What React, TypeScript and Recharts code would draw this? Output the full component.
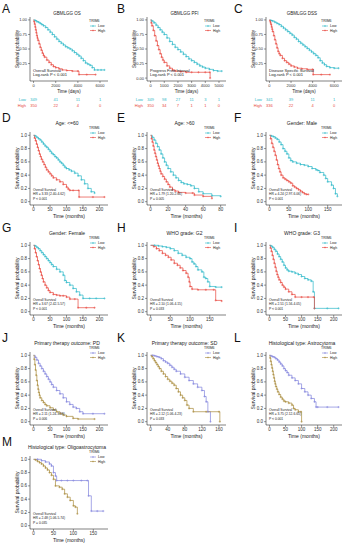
import React from 'react';
import { LineChart, Line, XAxis, YAxis } from 'recharts';

const FONT = '"Liberation Sans", Arial, Helvetica, sans-serif';
const CYAN = '#2DB8C8';
const RED = '#E8473E';
const PURPLE = '#8083DC';
const OLIVE = '#A98B3B';

type Pair = [number, number];

// ---------- data: [time, survival] ----------
const A_LOW: Pair[] = [[0,1],[150,0.99],[300,0.97],[450,0.96],[600,0.94],[750,0.92],[900,0.9],[1100,0.87],[1300,0.83],[1500,0.79],[1700,0.75],[1900,0.71],[2100,0.67],[2300,0.63],[2500,0.6],[2700,0.57],[2900,0.54],[3100,0.52],[3300,0.5],[3500,0.47],[3700,0.44],[3900,0.41],[4100,0.38],[4300,0.34],[4500,0.3],[4700,0.26],[4900,0.24],[5100,0.22],[5300,0.18],[5500,0.14],[5800,0.14],[6100,0.14],[6400,0.14]];
const A_HIGH: Pair[] = [[0,1],[50,0.97],[100,0.93],[150,0.88],[200,0.83],[250,0.78],[300,0.73],[350,0.69],[400,0.65],[500,0.59],[600,0.53],[700,0.48],[800,0.43],[900,0.39],[1000,0.36],[1200,0.31],[1400,0.27],[1600,0.23],[1800,0.2],[2000,0.18],[2300,0.16],[2600,0.14],[3000,0.13],[3500,0.12],[4000,0.12],[4100,0.06],[4800,0.06],[5600,0.06]];
const B_LOW: Pair[] = [[0,1],[100,0.98],[250,0.95],[400,0.91],[550,0.87],[700,0.83],[850,0.79],[1000,0.75],[1200,0.69],[1400,0.63],[1600,0.58],[1800,0.53],[2000,0.49],[2200,0.45],[2400,0.41],[2600,0.37],[2800,0.33],[3000,0.3],[3200,0.27],[3400,0.24],[3600,0.21],[3800,0.19],[4000,0.17],[4300,0.15],[4600,0.13],[4900,0.12],[5200,0.12]];
const B_HIGH: Pair[] = [[0,1],[50,0.95],[100,0.9],[200,0.82],[300,0.73],[400,0.64],[500,0.56],[600,0.49],[700,0.42],[800,0.36],[900,0.31],[1000,0.27],[1200,0.21],[1400,0.17],[1600,0.14],[1800,0.12],[2200,0.11],[2600,0.1],[3000,0.1],[3500,0.1],[4000,0.1],[4330,0.1],[4350,0]];
const C_LOW: Pair[] = [[0,1],[150,0.99],[300,0.98],[500,0.96],[700,0.94],[900,0.92],[1100,0.89],[1300,0.86],[1500,0.83],[1700,0.8],[1900,0.77],[2100,0.74],[2300,0.7],[2500,0.67],[2700,0.63],[2900,0.6],[3100,0.57],[3300,0.54],[3500,0.51],[3700,0.48],[3900,0.45],[4100,0.42],[4300,0.39],[4500,0.35],[4700,0.3],[4900,0.26],[5100,0.23],[5300,0.2],[5600,0.18],[6000,0.17],[6400,0.17]];
const C_HIGH: Pair[] = [[0,1],[50,0.98],[100,0.95],[150,0.92],[200,0.88],[250,0.84],[300,0.8],[400,0.73],[500,0.66],[600,0.59],[700,0.52],[800,0.46],[900,0.42],[1000,0.39],[1200,0.34],[1400,0.3],[1600,0.27],[1800,0.24],[2000,0.21],[2300,0.19],[2600,0.17],[3000,0.16],[3500,0.15],[4000,0.15],[4050,0.06],[4800,0.06],[5600,0.06]];
const D_LOW: Pair[] = [[0,1],[5,0.99],[10,0.97],[15,0.95],[20,0.93],[25,0.9],[30,0.87],[35,0.84],[40,0.82],[45,0.79],[50,0.76],[55,0.73],[60,0.71],[65,0.68],[70,0.66],[75,0.63],[80,0.6],[85,0.58],[90,0.55],[95,0.52],[100,0.5],[108,0.48],[115,0.46],[125,0.43],[135,0.39],[145,0.33],[155,0.27],[165,0.2],[175,0.15],[185,0.13]];
const D_HIGH: Pair[] = [[0,1],[3,0.96],[6,0.92],[9,0.87],[12,0.82],[15,0.77],[18,0.72],[21,0.68],[24,0.64],[28,0.6],[32,0.56],[36,0.52],[40,0.48],[45,0.45],[50,0.42],[55,0.39],[60,0.36],[70,0.33],[80,0.3],[90,0.26],[100,0.22],[105,0.19],[110,0.17],[120,0.17],[137,0.17],[138,0.07],[180,0.07],[215,0.07]];
const E_LOW: Pair[] = [[0,1],[2,0.97],[4,0.93],[6,0.88],[8,0.83],[10,0.78],[12,0.72],[14,0.66],[16,0.6],[18,0.55],[20,0.5],[23,0.45],[26,0.4],[29,0.36],[32,0.32],[35,0.29],[38,0.27],[42,0.26],[46,0.24],[50,0.2],[55,0.15],[60,0.12],[70,0.09],[80,0.08]];
const E_HIGH: Pair[] = [[0,1],[1,0.95],[2,0.9],[3,0.84],[4,0.78],[5,0.73],[6,0.68],[7,0.63],[8,0.58],[9,0.54],[10,0.5],[11,0.46],[12,0.42],[14,0.38],[16,0.34],[18,0.3],[20,0.26],[22,0.22],[25,0.18],[28,0.16],[32,0.14],[40,0.13],[48,0.13],[50,0.1],[60,0.08],[70,0.05]];
const F_LOW: Pair[] = [[0,1],[5,0.99],[10,0.98],[15,0.96],[20,0.94],[25,0.9],[30,0.86],[35,0.8],[40,0.76],[45,0.72],[50,0.66],[55,0.62],[60,0.6],[70,0.58],[80,0.56],[90,0.55],[100,0.53],[110,0.5],[120,0.48],[125,0.47],[130,0.44],[140,0.4],[145,0.35],[150,0.3],[160,0.25],[165,0.2],[170,0.12],[175,0.08]];
const F_HIGH: Pair[] = [[0,1],[3,0.95],[6,0.88],[9,0.82],[12,0.76],[15,0.7],[18,0.63],[21,0.56],[24,0.5],[27,0.45],[30,0.4],[35,0.36],[40,0.34],[45,0.32],[50,0.3],[55,0.28],[60,0.24],[65,0.22],[70,0.2],[75,0.18],[80,0.16],[85,0.14],[90,0.12],[95,0.11],[100,0.11]];
const G_LOW: Pair[] = [[0,1],[5,0.99],[10,0.97],[15,0.95],[20,0.92],[25,0.89],[30,0.86],[35,0.83],[40,0.8],[45,0.77],[50,0.74],[55,0.71],[60,0.68],[70,0.64],[80,0.6],[90,0.55],[95,0.47],[100,0.44],[110,0.4],[120,0.35],[130,0.3],[140,0.25],[150,0.2],[170,0.2],[190,0.2],[215,0.2]];
const G_HIGH: Pair[] = [[0,1],[3,0.95],[6,0.89],[9,0.83],[12,0.77],[15,0.71],[18,0.65],[21,0.6],[24,0.55],[27,0.5],[30,0.45],[35,0.4],[40,0.36],[45,0.32],[50,0.29],[60,0.26],[70,0.25],[80,0.24],[90,0.24],[100,0.22],[110,0.19],[125,0.19],[135,0.06],[160,0.06],[185,0.06]];
const H_LOW: Pair[] = [[0,1],[10,1],[20,0.99],[30,0.98],[40,0.97],[50,0.95],[60,0.92],[70,0.88],[80,0.85],[90,0.82],[100,0.8],[105,0.75],[110,0.72],[115,0.68],[120,0.63],[130,0.6],[135,0.52],[140,0.5],[145,0.45],[150,0.38],[165,0.37],[180,0.37]];
const H_HIGH: Pair[] = [[0,1],[8,0.98],[15,0.95],[22,0.92],[30,0.88],[38,0.85],[45,0.82],[52,0.78],[60,0.73],[68,0.7],[75,0.66],[82,0.62],[90,0.58],[95,0.52],[98,0.45],[100,0.38],[105,0.34],[120,0.33],[140,0.33],[160,0.33],[165,0.17],[180,0.16]];
const I_LOW: Pair[] = [[0,1],[5,0.99],[10,0.97],[15,0.94],[20,0.91],[25,0.87],[30,0.83],[35,0.79],[40,0.75],[45,0.7],[50,0.66],[55,0.63],[60,0.61],[70,0.6],[80,0.58],[90,0.56],[100,0.53],[110,0.5],[120,0.48],[130,0.46],[136,0.3],[140,0.05],[180,0.05],[215,0.05]];
const I_HIGH: Pair[] = [[0,1],[3,0.96],[6,0.91],[9,0.85],[12,0.79],[15,0.73],[18,0.67],[21,0.61],[24,0.56],[27,0.52],[30,0.48],[35,0.44],[40,0.4],[45,0.37],[50,0.34],[60,0.3],[70,0.26],[80,0.22],[100,0.22],[120,0.22],[138,0.22],[140,0.05]];
const J_LOW: Pair[] = [[0,1],[5,0.97],[10,0.93],[15,0.88],[20,0.84],[25,0.8],[30,0.76],[35,0.72],[40,0.68],[45,0.64],[50,0.6],[55,0.56],[60,0.52],[70,0.47],[80,0.42],[90,0.36],[100,0.3],[110,0.26],[120,0.22],[130,0.2],[140,0.15],[150,0.12],[180,0.12],[215,0.12]];
const J_HIGH: Pair[] = [[0,1],[2,0.94],[4,0.86],[6,0.78],[8,0.7],[10,0.62],[12,0.55],[14,0.49],[16,0.44],[18,0.4],[20,0.36],[25,0.32],[30,0.29],[35,0.26],[40,0.24],[50,0.21],[60,0.18],[70,0.15],[80,0.12],[90,0.1],[100,0.08],[120,0.05],[135,0.04],[185,0.04]];
const K_LOW: Pair[] = [[0,1],[5,1],[10,0.99],[15,0.98],[20,0.97],[25,0.95],[30,0.92],[35,0.9],[40,0.88],[45,0.85],[50,0.82],[55,0.79],[60,0.76],[70,0.72],[80,0.67],[90,0.62],[100,0.57],[110,0.52],[120,0.47],[126,0.38],[130,0.3],[134,0.15],[140,0]];
const K_HIGH: Pair[] = [[0,1],[3,0.98],[6,0.95],[9,0.92],[12,0.89],[15,0.86],[18,0.83],[21,0.8],[25,0.76],[30,0.72],[35,0.68],[40,0.64],[45,0.61],[50,0.58],[55,0.55],[60,0.5],[65,0.45],[70,0.4],[75,0.36],[80,0.32],[85,0.25],[90,0.2],[100,0.15],[130,0.15],[160,0.15],[162,0]];
const L_LOW: Pair[] = [[0,1],[5,0.99],[10,0.98],[15,0.97],[20,0.95],[25,0.93],[30,0.9],[35,0.87],[40,0.84],[45,0.8],[50,0.77],[55,0.74],[60,0.7],[70,0.66],[80,0.62],[90,0.57],[100,0.5],[110,0.45],[120,0.4],[130,0.35],[140,0.3],[145,0.22],[150,0.22],[180,0.22],[215,0.22]];
const L_HIGH: Pair[] = [[0,1],[2,0.96],[4,0.91],[6,0.86],[8,0.81],[10,0.76],[12,0.71],[14,0.66],[16,0.61],[18,0.57],[20,0.53],[23,0.49],[26,0.45],[30,0.41],[35,0.37],[40,0.34],[45,0.31],[50,0.3],[60,0.28],[70,0.25],[75,0.2],[80,0.18],[90,0.15],[98,0.15],[100,0]];
const M_LOW: Pair[] = [[0,1],[10,1],[20,0.98],[30,0.96],[40,0.93],[45,0.9],[50,0.8],[55,0.75],[58,0.68],[70,0.68],[85,0.68],[100,0.68],[120,0.68],[135,0.68],[138,0.45],[145,0.22],[160,0.22],[175,0.22]];
const M_HIGH: Pair[] = [[0,1],[5,0.99],[10,0.97],[15,0.95],[20,0.93],[25,0.9],[30,0.87],[35,0.84],[40,0.8],[45,0.76],[50,0.7],[55,0.6],[65,0.58],[72,0.55],[78,0.48],[85,0.43],[92,0.38],[100,0.3],[105,0.28],[110,0.18]];

// ---------- tick labels ----------
const TICKS_DAYS_A = [0, 2000, 4000, 6000];
const TICKS_DAYS_B = [0, 1000, 2000, 3000, 4000, 5000];
const TICKS_200 = [0, 50, 100, 150, 200];
const TICKS_150 = [0, 50, 100, 150];
const TICKS_80 = [0, 20, 40, 60, 80];
const TICKS_160 = [0, 40, 80, 120, 160];
const Y_QUARTER = [0, 0.25, 0.5, 0.75, 1];
const Y_QUARTER_NO0 = [0.25, 0.5, 0.75, 1];
const Y_FIFTH = [0, 0.2, 0.4, 0.6, 0.8, 1];

// ---------- risk tables ----------
const RISK_A_LOW = [349, 41, 11, 1];
const RISK_A_HIGH = [350, 22, 4, 0];
const RISK_B_LOW = [349, 98, 27, 11, 3, 1];
const RISK_B_HIGH = [350, 34, 7, 1, 1, 0];
const RISK_C_LOW = [341, 39, 11, 1];
const RISK_C_HIGH = [336, 22, 4, 0];

interface Spec {
  letter: string; title: string; col: number; row: number;
  low: Pair[]; high: Pair[]; xMax: number; xTicks: number[]; yTicks: number[]; yDigits: number;
  xLabel: string; notes: string[]; riskLow?: number[]; riskHigh?: number[]; pal: number;
}

const SPECS: Spec[] = [
  { letter: 'A', title: 'GBMLGG OS', col: 0, row: 0, low: A_LOW, high: A_HIGH, xMax: 6400, xTicks: TICKS_DAYS_A, yTicks: Y_QUARTER_NO0, yDigits: 2, xLabel: 'Time (days)', notes: ['Overall Survival', 'Log-rank  P < 0.001'], riskLow: RISK_A_LOW, riskHigh: RISK_A_HIGH, pal: 0 },
  { letter: 'B', title: 'GBMLGG PFI', col: 1, row: 0, low: B_LOW, high: B_HIGH, xMax: 5250, xTicks: TICKS_DAYS_B, yTicks: Y_QUARTER, yDigits: 2, xLabel: 'Time (days)', notes: ['Progress Free Interval', 'Log-rank  P < 0.001'], riskLow: RISK_B_LOW, riskHigh: RISK_B_HIGH, pal: 0 },
  { letter: 'C', title: 'GBMLGG DSS', col: 2, row: 0, low: C_LOW, high: C_HIGH, xMax: 6400, xTicks: TICKS_DAYS_A, yTicks: Y_QUARTER_NO0, yDigits: 2, xLabel: 'Time (days)', notes: ['Disease Specific Survival', 'Log-rank  P < 0.001'], riskLow: RISK_C_LOW, riskHigh: RISK_C_HIGH, pal: 0 },
  { letter: 'D', title: 'Age: <=60', col: 0, row: 1, low: D_LOW, high: D_HIGH, xMax: 215, xTicks: TICKS_200, yTicks: Y_FIFTH, yDigits: 1, xLabel: 'Time (months)', notes: ['Overall Survival', 'HR = 3.33 (2.40-4.62)', 'P < 0.001'], pal: 0 },
  { letter: 'E', title: 'Age: >60', col: 1, row: 1, low: E_LOW, high: E_HIGH, xMax: 82, xTicks: TICKS_80, yTicks: Y_FIFTH, yDigits: 1, xLabel: 'Time (months)', notes: ['Overall Survival', 'HR = 1.79 (1.20-2.66)', 'P = 0.005'], pal: 0 },
  { letter: 'F', title: 'Gender: Male', col: 2, row: 1, low: F_LOW, high: F_HIGH, xMax: 178, xTicks: TICKS_150, yTicks: Y_FIFTH, yDigits: 1, xLabel: 'Time (months)', notes: ['Overall Survival', 'HR = 4.24 (2.97-6.06)', 'P < 0.001'], pal: 0 },
  { letter: 'G', title: 'Gender: Female', col: 0, row: 2, low: G_LOW, high: G_HIGH, xMax: 215, xTicks: TICKS_200, yTicks: Y_FIFTH, yDigits: 1, xLabel: 'Time (months)', notes: ['Overall Survival', 'HR = 3.67 (2.42-5.57)', 'P < 0.001'], pal: 0 },
  { letter: 'H', title: 'WHO grade: G2', col: 1, row: 2, low: H_LOW, high: H_HIGH, xMax: 182, xTicks: TICKS_150, yTicks: Y_FIFTH, yDigits: 1, xLabel: 'Time (months)', notes: ['Overall Survival', 'HR = 2.10 (1.06-4.15)', 'P = 0.033'], pal: 0 },
  { letter: 'I', title: 'WHO grade: G3', col: 2, row: 2, low: I_LOW, high: I_HIGH, xMax: 215, xTicks: TICKS_200, yTicks: Y_FIFTH, yDigits: 1, xLabel: 'Time (months)', notes: ['Overall Survival', 'HR = 2.51 (1.56-4.05)', 'P < 0.001'], pal: 0 },
  { letter: 'J', title: 'Primary therapy outcome: PD', col: 0, row: 3, low: J_LOW, high: J_HIGH, xMax: 215, xTicks: TICKS_200, yTicks: Y_FIFTH, yDigits: 1, xLabel: 'Time (months)', notes: ['Overall Survival', 'HR = 2.11 (1.24-3.59)', 'P = 0.006'], pal: 1 },
  { letter: 'K', title: 'Primary therapy outcome: SD', col: 1, row: 3, low: K_LOW, high: K_HIGH, xMax: 168, xTicks: TICKS_160, yTicks: Y_FIFTH, yDigits: 1, xLabel: 'Time (months)', notes: ['Overall Survival', 'HR = 2.12 (1.06-4.23)', 'P = 0.033'], pal: 1 },
  { letter: 'L', title: 'Histological type: Astrocytoma', col: 2, row: 3, low: L_LOW, high: L_HIGH, xMax: 215, xTicks: TICKS_200, yTicks: Y_FIFTH, yDigits: 1, xLabel: 'Time (months)', notes: ['Overall Survival', 'HR = 3.75 (2.12-6.65)', 'P < 0.001'], pal: 1 },
  { letter: 'M', title: 'Histological type: Oligoastrocytoma', col: 0, row: 4, low: M_LOW, high: M_HIGH, xMax: 178, xTicks: TICKS_150, yTicks: Y_FIFTH, yDigits: 1, xLabel: 'Time (months)', notes: ['Overall Survival', 'HR = 2.48 (1.06-5.74)', 'P = 0.035'], pal: 1 },
];

// ---------- layout ----------
const COL_X = [0, 115, 232];
const PLOT_L = [30, 147, 266];
const PLOT_R = [108, 226, 342];
const ROW_Y = [0, 116, 226, 336, 440];
const PANEL_W = 115;
const Y_AXIS_W = 20;
const X_AXIS_H = 8;

function boxOf(row: number) {
  if (row === 0) return { top: 17, bot: 81 };
  return { top: ROW_Y[row] + 16, bot: ROW_Y[row] + 89 };
}

const plusDot = (color: string) => (props: any) => {
  const { cx, cy, index } = props;
  if (index === 0 || cx == null || cy == null) return <g key={`d${index}`} />;
  return (
    <path key={`d${index}`} d={`M${cx - 1.1},${cy}h2.2M${cx},${cy - 1.1}v2.2`} stroke={color} strokeWidth={0.5} fill="none" />
  );
};

function Panel({ s }: { s: Spec }) {
  const box = boxOf(s.row);
  const rowY = ROW_Y[s.row];
  const colX = COL_X[s.col];
  const chartH = box.bot - rowY + 10;
  const margin = {
    top: box.top - rowY,
    left: PLOT_L[s.col] - colX - Y_AXIS_W,
    right: PANEL_W - (PLOT_R[s.col] - colX),
    bottom: chartH - (box.bot - rowY) - X_AXIS_H,
  };
  const [cLow, cHigh] = s.pal === 0 ? [CYAN, RED] : [PURPLE, OLIVE];
  const lowData = s.low.map(([t, v]) => ({ t, s: v }));
  const highData = s.high.map(([t, v]) => ({ t, s: v }));
  const tickFs = s.row === 0 ? 4 : 4.5;
  return (
    <div style={{ position: 'absolute', left: colX, top: rowY, width: PANEL_W, height: chartH }}>
      <LineChart width={PANEL_W} height={chartH} margin={margin}>
        <XAxis
          dataKey="t" type="number" domain={[-0.05 * s.xMax, 1.05 * s.xMax]} allowDataOverflow
          ticks={s.xTicks} interval={0} height={X_AXIS_H} tickSize={2} tickMargin={1}
          stroke="#000" strokeWidth={0.5}
          tick={{ fontSize: tickFs, fill: '#333', fontFamily: FONT }}
          tickLine={{ stroke: '#333', strokeWidth: 0.5 }}
        />
        <YAxis
          type="number" domain={[-0.05, 1.05]} allowDataOverflow ticks={s.yTicks} interval={0}
          width={Y_AXIS_W} tickSize={2} tickMargin={1} stroke="#000" strokeWidth={0.5}
          tickFormatter={(v: number) => v.toFixed(s.yDigits)}
          tick={{ fontSize: tickFs, fill: '#333', fontFamily: FONT }}
          tickLine={{ stroke: '#333', strokeWidth: 0.5 }}
        />
        <Line data={lowData} dataKey="s" type="stepAfter" stroke={cLow} strokeWidth={0.7} dot={plusDot(cLow)} activeDot={false} isAnimationActive={false} />
        <Line data={highData} dataKey="s" type="stepAfter" stroke={cHigh} strokeWidth={0.7} dot={plusDot(cHigh)} activeDot={false} isAnimationActive={false} />
      </LineChart>
    </div>
  );
}

function Overlay({ s }: { s: Spec }) {
  const box = boxOf(s.row);
  const rowY = ROW_Y[s.row];
  const colX = COL_X[s.col];
  const pl = PLOT_L[s.col];
  const pr = PLOT_R[s.col];
  const cx = (pl + pr) / 2;
  const [cLow, cHigh] = s.pal === 0 ? [CYAN, RED] : [PURPLE, OLIVE];
  const first = s.row === 0;
  const y0 = box.bot - (0.05 / 1.1) * (box.bot - box.top);
  const lx = colX + 89;
  const legY = first ? 22 : rowY + 13;
  const xScale = (t: number) => pl + ((t + 0.05 * s.xMax) / (1.1 * s.xMax)) * (pr - pl);
  const noteFs = first ? 4 : 3.3;
  const noteYs = first ? [y0 - 6.5, y0 - 2] : [y0 - 10.5, y0 - 6.3, y0 - 2.1];
  return (
    <g fontFamily={FONT}>
      <text x={colX + 2} y={first ? 13 : rowY + 6} fontSize={12} fill="#111">{s.letter}</text>
      <text x={cx - 2} y={first ? 14.5 : rowY + 8.5} fontSize={first ? 4.5 : 5} textAnchor="middle" fill="#222">{s.title}</text>
      <text x={lx} y={legY} fontSize={3.5} fill="#222">TRIM6</text>
      <line x1={lx + 1} x2={lx + 7} y1={legY + 4} y2={legY + 4} stroke={cLow} strokeWidth={0.6} />
      <path d={`M${lx + 3},${legY + 4}h2M${lx + 4},${legY + 3}v2`} stroke={cLow} strokeWidth={0.4} />
      <text x={lx + 9} y={legY + 5.3} fontSize={3.5} fill="#222">Low</text>
      <line x1={lx + 1} x2={lx + 7} y1={legY + 8.5} y2={legY + 8.5} stroke={cHigh} strokeWidth={0.6} />
      <path d={`M${lx + 3},${legY + 8.5}h2M${lx + 4},${legY + 7.5}v2`} stroke={cHigh} strokeWidth={0.4} />
      <text x={lx + 9} y={legY + 9.8} fontSize={3.5} fill="#222">High</text>
      <text transform={`translate(${pl - 11},${(box.top + box.bot) / 2}) rotate(-90)`} fontSize={first ? 4.5 : 5} textAnchor="middle" fill="#222">Survival probability</text>
      <text x={cx} y={box.bot + (first ? 12 : 12.5)} fontSize={first ? 4.5 : 5} textAnchor="middle" fill="#222">{s.xLabel}</text>
      {s.notes.map((n, i) => (
        <text key={i} x={pl + 3} y={noteYs[i]} fontSize={noteFs} fill="#222">{n}</text>
      ))}
      {s.riskLow && (
        <g fontSize={4}>
          <text x={pl - 4} y={101} textAnchor="end" fill={cLow}>Low</text>
          <text x={pl - 4} y={107} textAnchor="end" fill={cHigh}>High</text>
          {s.riskLow.map((v, i) => (
            <text key={'l' + i} x={xScale(s.xTicks[i])} y={101} textAnchor="middle" fill={cLow}>{v}</text>
          ))}
          {(s.riskHigh || []).map((v, i) => (
            <text key={'h' + i} x={xScale(s.xTicks[i])} y={107} textAnchor="middle" fill={cHigh}>{v}</text>
          ))}
        </g>
      )}
    </g>
  );
}

export default function App() {
  return (
    <div style={{ position: 'absolute', left: 0, top: 0, width: 347, height: 550, background: '#fff', overflow: 'hidden' }}>
      {SPECS.map((s) => <Panel key={s.letter} s={s} />)}
      <svg width={347} height={550} style={{ position: 'absolute', left: 0, top: 0, pointerEvents: 'none' }}>
        {SPECS.map((s) => <Overlay key={s.letter} s={s} />)}
      </svg>
    </div>
  );
}
